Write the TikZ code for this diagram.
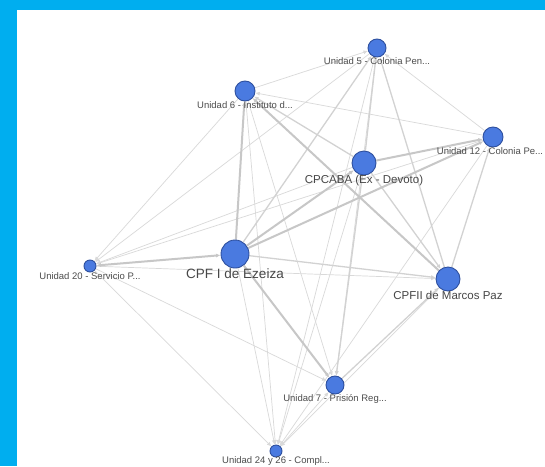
\documentclass[tikz,border=0pt]{standalone}
\usepackage{fontspec}
\setmainfont{Liberation Sans}
\usetikzlibrary{arrows.meta,backgrounds}
\definecolor{framecol}{HTML}{00AEEF}
\definecolor{unitfill}{HTML}{4A7AE0}
\definecolor{unitdraw}{HTML}{2D4F9E}
\definecolor{linkcol}{HTML}{D2D2D2}

\begin{document}
\begin{tikzpicture}[x=1pt,y=-1pt,
    >={Latex[length=4.5pt,width=4pt]},
    unit/.style={circle,draw=unitdraw,fill=unitfill,line width=0.9pt,inner sep=0pt},
    lbl/.style={text=black!70,inner sep=0pt,label distance=0pt,font=\fontsize{9.5}{11}\selectfont},
    biglbl/.style={text=black!72,inner sep=0pt,label distance=0pt,font=\fontsize{11.5}{13}\selectfont},
    link/.style={draw=linkcol!85,line width=0.7pt},
    midlink/.style={draw=linkcol,line width=1.3pt},
    heavylink/.style={draw=linkcol!95!black,line width=2pt}]
    \useasboundingbox (0,0) rectangle (545,466);
    \begin{scope}[on background layer]
        \fill[framecol] (0,0) rectangle (545,466);
        \fill[white] (17,10) rectangle (545,466);
    \end{scope}
    % units
    \node[unit,minimum size=18pt,label={[lbl]below:Unidad 5 - Colonia Pen...}] (u5) at (377,48) {};
    \node[unit,minimum size=20pt,label={[lbl]below:Unidad 6 - Instituto d...}] (u6) at (245,91) {};
    \node[unit,minimum size=20pt,label={[lbl,xshift=-3pt]below:Unidad 12 - Colonia Pe...}] (u12) at (493,137) {};
    \node[unit,minimum size=24pt,label={[biglbl]below:CPCABA (Ex - Devoto)}] (cpcaba) at (364,163) {};
    \node[unit,minimum size=28pt,label={[biglbl,font=\fontsize{13.5}{15}\selectfont]below:CPF I de Ezeiza}] (cpf) at (235,254) {};
    \node[unit,minimum size=12pt,label={[lbl]below:Unidad 20 - Servicio P...}] (u20) at (90,266) {};
    \node[unit,minimum size=24pt,label={[biglbl]below:CPFII de Marcos Paz}] (cpfii) at (448,279) {};
    \node[unit,minimum size=18pt,label={[lbl]below:Unidad 7 - Prisión Reg...}] (u7) at (335,385) {};
    \node[unit,minimum size=12pt,label={[lbl,label distance=-1.5pt]below:Unidad 24 y 26 - Compl...}] (u24) at (276,451) {};
    % transfers
    \begin{scope}[on background layer]
        \foreach \a/\b in {u6/u5,u12/u5,u5/u20,u5/u7,u5/u24,u12/u6,u6/u7,u6/u24,u6/u20,
                cpcaba/u20,cpcaba/u24,u12/u20,u12/u24,u20/cpfii,u20/u7,u20/u24,
                cpfii/u24,u24/u7,cpf/u24}
            \draw[link,->] (\a) -- (\b);
        \foreach \a/\b in {cpf/u5,cpcaba/u5,cpfii/u5,cpcaba/u6,cpcaba/cpfii,cpcaba/u7,
                cpfii/u12,cpf/cpfii,u7/cpfii}
            \draw[midlink,->] (\a) -- (\b);
        \foreach \a/\b in {cpf/u6,cpf/cpcaba,cpf/u12,cpcaba/u12,cpfii/u6,cpf/u7}
            \draw[heavylink,->] (\a) -- (\b);
        \draw[heavylink,<->] (u20) -- (cpf);
    \end{scope}
\end{tikzpicture}
\end{document}
